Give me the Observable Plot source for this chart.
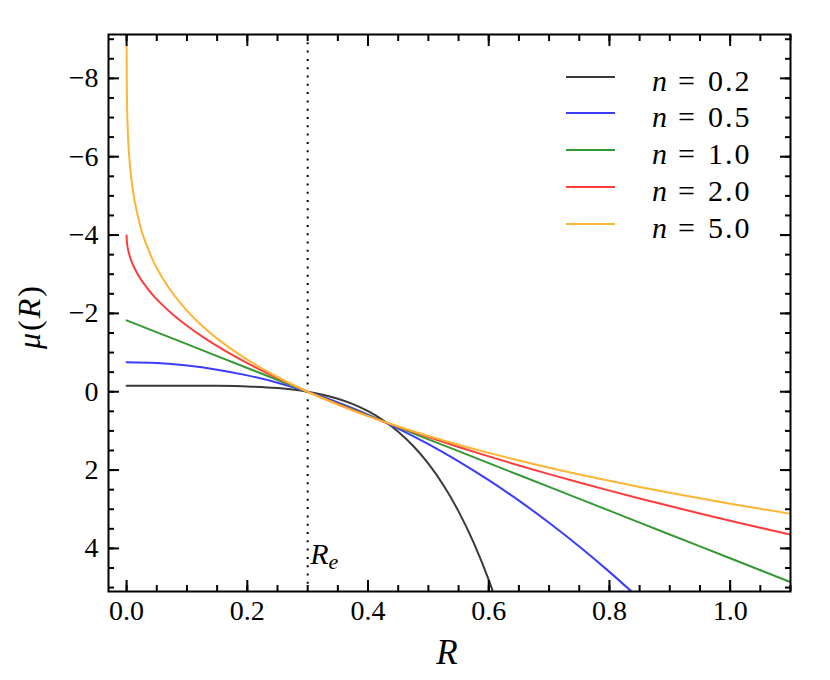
<!DOCTYPE html>
<html><head><meta charset="utf-8">
<script src="https://cdn.jsdelivr.net/npm/d3@7"></script>
<script src="https://cdn.jsdelivr.net/npm/@observablehq/plot@0.6"></script>
<style>
body{margin:0;background:#fff;}
#wrap{position:relative;width:830px;height:680px;font-family:"Liberation Serif","DejaVu Serif",serif;color:#000;}
.swatch{position:absolute;left:566px;width:49px;height:2px;}
.ltxt{position:absolute;left:652px;font-size:30px;line-height:30px;white-space:nowrap;}
.ltxt .eq{margin:0 13px 0 11px;}
.ltxt .num{letter-spacing:2px;}
</style></head><body><div id="wrap"></div>
<script>
// series labels and colours
const nLabels = ["0.2", "0.5", "1.0", "2.0", "5.0"];
const colors = ["#3a3a3a", "#3c3cff", "#339933", "#ff3c3c", "#ffb433"];

// n = 0.2
const rN02 = [0, 0.05, 0.1, 0.15, 0.2, 0.25, 0.275, 0.3, 0.325, 0.35, 0.375, 0.4, 0.425, 0.45, 0.475, 0.5, 0.525, 0.55, 0.575, 0.6, 0.62];
const muN02 = [-0.155, -0.155, -0.154, -0.150, -0.135, -0.093, -0.055, 0, 0.076, 0.180, 0.318, 0.498, 0.729, 1.022, 1.387, 1.838, 2.389, 3.055, 3.853, 4.805, 5.69];
// n = 0.5
const rN05 = [0, 0.05, 0.1, 0.15, 0.2, 0.25, 0.3, 0.35, 0.4, 0.45, 0.5, 0.55, 0.6, 0.65, 0.7, 0.75, 0.8, 0.85];
const muN05 = [-0.753, -0.732, -0.669, -0.564, -0.418, -0.230, 0, 0.272, 0.585, 0.941, 1.338, 1.777, 2.258, 2.780, 3.345, 3.951, 4.599, 5.289];
// n = 1.0
const rN10 = [0, 0.1, 0.2, 0.3, 0.4, 0.5, 0.6, 0.7, 0.8, 0.9, 1.0, 1.1];
const muN10 = [-1.822, -1.215, -0.607, 0, 0.607, 1.215, 1.822, 2.430, 3.037, 3.644, 4.252, 4.859];
// n = 2.0
const rN20 = [0, 0.0003, 0.001, 0.002, 0.005, 0.01, 0.02, 0.04, 0.06, 0.08, 0.1, 0.13, 0.16, 0.2, 0.25, 0.3, 0.35, 0.4, 0.45, 0.5, 0.55, 0.6, 0.65, 0.7, 0.75, 0.8, 0.85, 0.9, 0.95, 1.0, 1.05, 1.1];
const muN20 = [-3.987, -3.861, -3.757, -3.661, -3.472, -3.259, -2.958, -2.531, -2.204, -1.928, -1.685, -1.362, -1.075, -0.732, -0.347, 0, 0.319, 0.617, 0.896, 1.160, 1.411, 1.651, 1.882, 2.103, 2.317, 2.524, 2.724, 2.919, 3.108, 3.292, 3.472, 3.648];
// n = 5.0
const rN50 = [0, 0.0001, 0.0003, 0.001, 0.002, 0.005, 0.01, 0.02, 0.04, 0.06, 0.08, 0.1, 0.13, 0.16, 0.2, 0.25, 0.3, 0.35, 0.4, 0.45, 0.5, 0.55, 0.6, 0.65, 0.7, 0.75, 0.8, 0.85, 0.9, 0.95, 1.0, 1.05, 1.1];
const muN50 = [-8.83, -8.38, -7.86, -7.143, -6.644, -5.870, -5.181, -4.391, -3.482, -2.889, -2.439, -2.071, -1.617, -1.240, -0.818, -0.376, 0, 0.329, 0.622, 0.887, 1.129, 1.353, 1.561, 1.756, 1.939, 2.111, 2.275, 2.431, 2.580, 2.722, 2.858, 2.989, 3.115];

const rEffective = 0.3;
const xTicks = [0, 0.2, 0.4, 0.6, 0.8, 1.0];
const yTicks = [-8, -6, -4, -2, 0, 2, 4];
const xMinor = d3.range(0, 1.1001, 0.05).map(v => +v.toFixed(2));
const yMinor = d3.range(-9, 5.001, 0.5);

const seriesR = [rN02, rN05, rN10, rN20, rN50];
const seriesMu = [muN02, muN05, muN10, muN20, muN50];
const rows = [];
seriesR.forEach((rs, i) => rs.forEach((r, j) => rows.push({R: r, mu: seriesMu[i][j], n: nLabels[i]})));

const fmtY = d => d < 0 ? "\u2212" + Math.abs(d) : String(d);
const tickOpts = {strokeWidth: 2, text: null, label: null};
const FONT = '"Liberation Serif", "DejaVu Serif", serif';

const chart = Plot.plot({
  width: 830, height: 680,
  marginTop: 34, marginRight: 40, marginBottom: 89, marginLeft: 108,
  style: {fontFamily: FONT, fontSize: "28px", color: "#000", background: "#fff", overflow: "visible"},
  x: {domain: [-0.03, 1.1]},
  y: {domain: [-9.12, 5.1], reverse: true},
  color: {domain: nLabels, range: colors},
  marks: [
    Plot.ruleX([rEffective], {stroke: "#000", strokeWidth: 2, strokeDasharray: "2,6.3"}),
    Plot.line(rows, {x: "R", y: "mu", stroke: "n", z: "n", strokeWidth: 2, curve: "monotone-x", clip: true}),
    Plot.frame({stroke: "#000", strokeWidth: 2}),
    Plot.axisX(xTicks, {anchor: "bottom", tickSize: 0, tickPadding: 9, tickFormat: d3.format(".1f"), label: null, fontSize: 28}),
    Plot.axisX(xTicks, {anchor: "bottom", tickSize: -11, ...tickOpts}),
    Plot.axisX(xTicks, {anchor: "top", tickSize: -11, ...tickOpts}),
    Plot.axisX(xMinor, {anchor: "bottom", tickSize: -6, ...tickOpts}),
    Plot.axisX(xMinor, {anchor: "top", tickSize: -6, ...tickOpts}),
    Plot.axisY(yTicks, {anchor: "left", tickSize: 0, tickPadding: 10, tickFormat: fmtY, label: null, fontSize: 28}),
    Plot.axisY(yTicks, {anchor: "left", tickSize: -11, ...tickOpts}),
    Plot.axisY(yTicks, {anchor: "right", tickSize: -11, ...tickOpts}),
    Plot.axisY(yMinor, {anchor: "left", tickSize: -6, ...tickOpts}),
    Plot.axisY(yMinor, {anchor: "right", tickSize: -6, ...tickOpts})
  ]
});

const wrap = document.getElementById("wrap");
wrap.appendChild(chart);
const svg = d3.select(chart);
svg.selectAll("text").style("font-family", FONT);

// annotations placed through the chart's own scales
const sx = chart.scale("x"), sy = chart.scale("y");
const reTxt = svg.append("text")
  .attr("x", sx.apply(rEffective) + 3).attr("y", sy.apply(4.4))
  .attr("text-anchor", "start").style("font-family", FONT)
  .style("font-size", "30px").attr("font-style", "italic");
reTxt.append("tspan").text("R");
reTxt.append("tspan").style("font-size", "22px").attr("dy", 5).text("e");

// axis titles
const xMid = (sx.range[0] + sx.range[1]) / 2;
const yMid = (sy.range[0] + sy.range[1]) / 2;
svg.append("text").attr("x", xMid - 2).attr("y", 664).attr("text-anchor", "middle")
  .style("font-family", FONT).style("font-size", "35px").attr("font-style", "italic").text("R");
const yl = svg.append("text").attr("transform", `translate(40,${yMid + 4}) rotate(-90)`).attr("text-anchor", "middle")
  .style("font-family", FONT).style("font-size", "32px").style("letter-spacing", "2px");
yl.append("tspan").attr("font-style", "italic").text("\u03bc");
yl.append("tspan").text("(");
yl.append("tspan").attr("font-style", "italic").text("R");
yl.append("tspan").text(")");

// legend
const legendTop = 76.5, legendStep = 36.75;
nLabels.forEach((lab, i) => {
  const y = legendTop + i * legendStep;
  const sw = document.createElement("div");
  sw.className = "swatch";
  sw.style.top = (y - 1) + "px";
  sw.style.background = colors[i];
  wrap.appendChild(sw);
  const t = document.createElement("div");
  t.className = "ltxt";
  t.style.top = (y - 11) + "px";
  t.innerHTML = `<i>n</i><span class="eq">=</span><span class="num">${lab}</span>`;
  wrap.appendChild(t);
});
</script></body></html>
